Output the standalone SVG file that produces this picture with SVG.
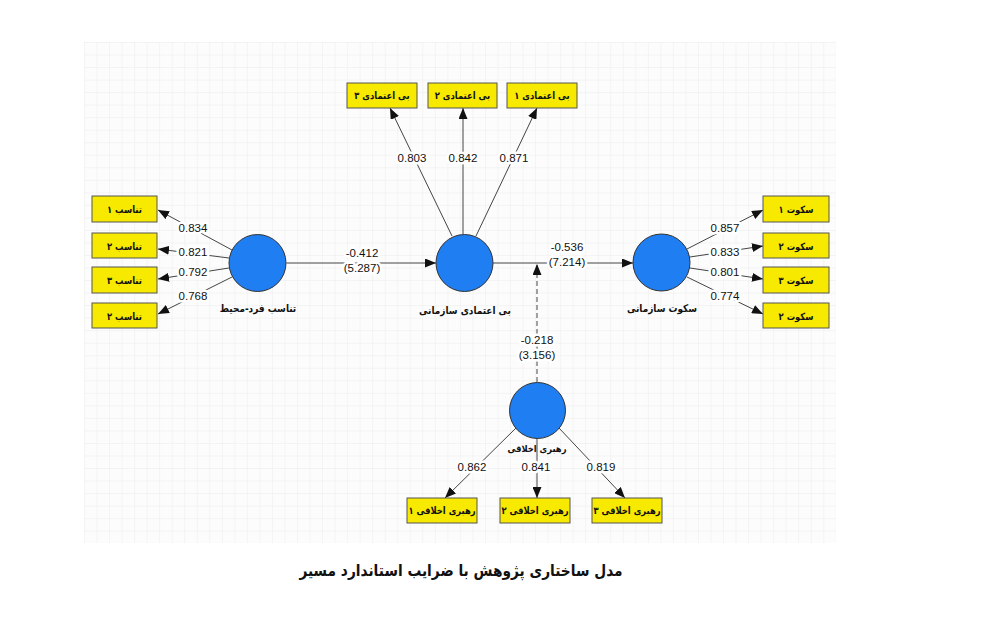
<svg xmlns="http://www.w3.org/2000/svg" width="983" height="634" viewBox="0 0 983 634">
<defs>
<pattern id="grid" x="84" y="42" width="12.53" height="12.53" patternUnits="userSpaceOnUse">
<path d="M12.53,0 L0,0 L0,12.53" fill="none" stroke="#ececec" stroke-width="1"/>
</pattern>
<marker id="arr" markerUnits="userSpaceOnUse" markerWidth="11" markerHeight="9" refX="11" refY="4.5" orient="auto">
<path d="M0,0 L11,4.5 L0,9 z" fill="#111"/>
</marker>
</defs>
<style>
.ln{stroke:#444;stroke-width:1;fill:none}
.dash{stroke-dasharray:5,3}
.box{fill:#f7e900;stroke:#555;stroke-width:1}
.bt{font-family:"DejaVu Sans",sans-serif;font-weight:bold;font-size:10px;fill:#111;text-anchor:middle}
.ct{font-family:"DejaVu Sans",sans-serif;font-weight:bold;font-size:10.5px;fill:#111;text-anchor:middle}
.cir{fill:#1f7ef2;stroke:#333;stroke-width:1}
.num{font-family:"Liberation Sans",Arial,sans-serif;font-size:11.5px;fill:#111;text-anchor:middle;stroke:#fff;stroke-width:5;paint-order:stroke;stroke-linejoin:round}
.cap{font-family:"DejaVu Sans",sans-serif;font-weight:bold;font-size:16px;fill:#111;text-anchor:middle}
</style>
<rect width="983" height="634" fill="#fff"/>
<rect x="84" y="42" width="752" height="501" fill="#fcfcfc"/>
<rect x="84" y="42" width="752" height="501" fill="url(#grid)"/>

<g id="connectors">
<line class="ln" x1="452" y1="236" x2="390" y2="108" marker-end="url(#arr)"/>
<line class="ln" x1="463" y1="234" x2="463" y2="108" marker-end="url(#arr)"/>
<line class="ln" x1="476" y1="236" x2="537" y2="108" marker-end="url(#arr)"/>
<line class="ln" x1="232" y1="250" x2="158" y2="210" marker-end="url(#arr)"/>
<line class="ln" x1="229" y1="258" x2="158" y2="249" marker-end="url(#arr)"/>
<line class="ln" x1="229" y1="268" x2="158" y2="279" marker-end="url(#arr)"/>
<line class="ln" x1="232" y1="277" x2="158" y2="314" marker-end="url(#arr)"/>
<line class="ln" x1="687" y1="249" x2="763" y2="210" marker-end="url(#arr)"/>
<line class="ln" x1="690" y1="257" x2="763" y2="246" marker-end="url(#arr)"/>
<line class="ln" x1="690" y1="268" x2="763" y2="279" marker-end="url(#arr)"/>
<line class="ln" x1="687" y1="277" x2="763" y2="314" marker-end="url(#arr)"/>
<line class="ln" x1="286.5" y1="263" x2="436" y2="263" marker-end="url(#arr)"/>
<line class="ln" x1="493" y1="263" x2="633" y2="263" marker-end="url(#arr)"/>
<line class="ln dash" x1="537" y1="382" x2="537" y2="264" marker-end="url(#arr)"/>
<line class="ln" x1="516" y1="428" x2="445" y2="498" marker-end="url(#arr)"/>
<line class="ln" x1="537" y1="438.5" x2="537" y2="498" marker-end="url(#arr)"/>
<line class="ln" x1="559" y1="428" x2="625" y2="498" marker-end="url(#arr)"/>

<text class="num" x="412" y="162">0.803</text>
<text class="num" x="463" y="162">0.842</text>
<text class="num" x="514" y="162">0.871</text>
<text class="num" x="193" y="232">0.834</text>
<text class="num" x="193" y="256">0.821</text>
<text class="num" x="193" y="276">0.792</text>
<text class="num" x="193" y="300">0.768</text>
<text class="num" x="725" y="232">0.857</text>
<text class="num" x="725" y="256">0.833</text>
<text class="num" x="725" y="276">0.801</text>
<text class="num" x="725" y="300">0.774</text>
<text class="num" x="362" y="257">-0.412</text>
<text class="num" x="362" y="272">(5.287)</text>
<text class="num" x="567" y="251">-0.536</text>
<text class="num" x="567" y="266">(7.214)</text>
<text class="num" x="537" y="344">-0.218</text>
<text class="num" x="537" y="359">(3.156)</text>
<text class="num" x="472" y="471">0.862</text>
<text class="num" x="536" y="471">0.841</text>
<text class="num" x="601" y="471">0.819</text>
</g>

<g id="n-fit">
<circle class="cir" cx="257.5" cy="263" r="28.5"/>
<text class="ct" transform="translate(258,312) scale(0.85,1)" direction="rtl">تناسب فرد-محیط</text>
</g>
<g id="n-distrust">
<circle class="cir" cx="464.5" cy="263" r="28.5"/>
<text class="ct" transform="translate(465,314) scale(0.85,1)" direction="rtl">بی اعتمادی سازمانی</text>
</g>
<g id="n-silence">
<circle class="cir" cx="661.5" cy="262.5" r="28.5"/>
<text class="ct" transform="translate(662,312) scale(0.85,1)" direction="rtl">سکوت سازمانی</text>
</g>
<g id="n-ethical">
<circle class="cir" cx="537.5" cy="410.5" r="28"/>
<text class="ct" transform="translate(537,452) scale(0.88,1)" direction="rtl" style="font-size:9.5px">رهبری اخلاقی</text>
</g>

<g id="b-d3"><rect class="box" x="347" y="83" width="70" height="25"/><text class="bt" transform="translate(382,99) scale(0.84,1)" direction="rtl">بی اعتمادی ۳</text></g>
<g id="b-d2"><rect class="box" x="428" y="83" width="69" height="25"/><text class="bt" transform="translate(462.5,99) scale(0.84,1)" direction="rtl">بی اعتمادی ۲</text></g>
<g id="b-d1"><rect class="box" x="507" y="83" width="70" height="25"/><text class="bt" transform="translate(542,99) scale(0.84,1)" direction="rtl">بی اعتمادی ۱</text></g>

<g id="b-f1"><rect class="box" x="92" y="196" width="65" height="26"/><text class="bt" transform="translate(124.5,213) scale(0.84,1)" direction="rtl">تناسب ۱</text></g>
<g id="b-f2"><rect class="box" x="92" y="233" width="65" height="25"/><text class="bt" transform="translate(124.5,249.5) scale(0.84,1)" direction="rtl">تناسب ۲</text></g>
<g id="b-f3"><rect class="box" x="92" y="267" width="65" height="26"/><text class="bt" transform="translate(124.5,284) scale(0.84,1)" direction="rtl">تناسب ۳</text></g>
<g id="b-f4"><rect class="box" x="92" y="303" width="65" height="25"/><text class="bt" transform="translate(124.5,319.5) scale(0.84,1)" direction="rtl">تناسب ۲</text></g>

<g id="b-s1"><rect class="box" x="763" y="196" width="66" height="26"/><text class="bt" transform="translate(796,213) scale(0.84,1)" direction="rtl">سکوت ۱</text></g>
<g id="b-s2"><rect class="box" x="763" y="233" width="66" height="25"/><text class="bt" transform="translate(796,249.5) scale(0.84,1)" direction="rtl">سکوت ۲</text></g>
<g id="b-s3"><rect class="box" x="763" y="267" width="66" height="26"/><text class="bt" transform="translate(796,284) scale(0.84,1)" direction="rtl">سکوت ۳</text></g>
<g id="b-s4"><rect class="box" x="763" y="303" width="66" height="25"/><text class="bt" transform="translate(796,319.5) scale(0.84,1)" direction="rtl">سکوت ۲</text></g>

<g id="b-e1"><rect class="box" x="407" y="498" width="70" height="25"/><text class="bt" transform="translate(442,514) scale(0.84,1)" direction="rtl">رهبری اخلاقی ۱</text></g>
<g id="b-e2"><rect class="box" x="500" y="498" width="70" height="25"/><text class="bt" transform="translate(535,514) scale(0.84,1)" direction="rtl">رهبری اخلاقی ۲</text></g>
<g id="b-e3"><rect class="box" x="592" y="498" width="70" height="25"/><text class="bt" transform="translate(627,514) scale(0.84,1)" direction="rtl">رهبری اخلاقی ۳</text></g>

<text class="cap" transform="translate(461,576) scale(0.86,1)" direction="rtl">مدل ساختاری پژوهش با ضرایب استاندارد مسیر</text>
</svg>
